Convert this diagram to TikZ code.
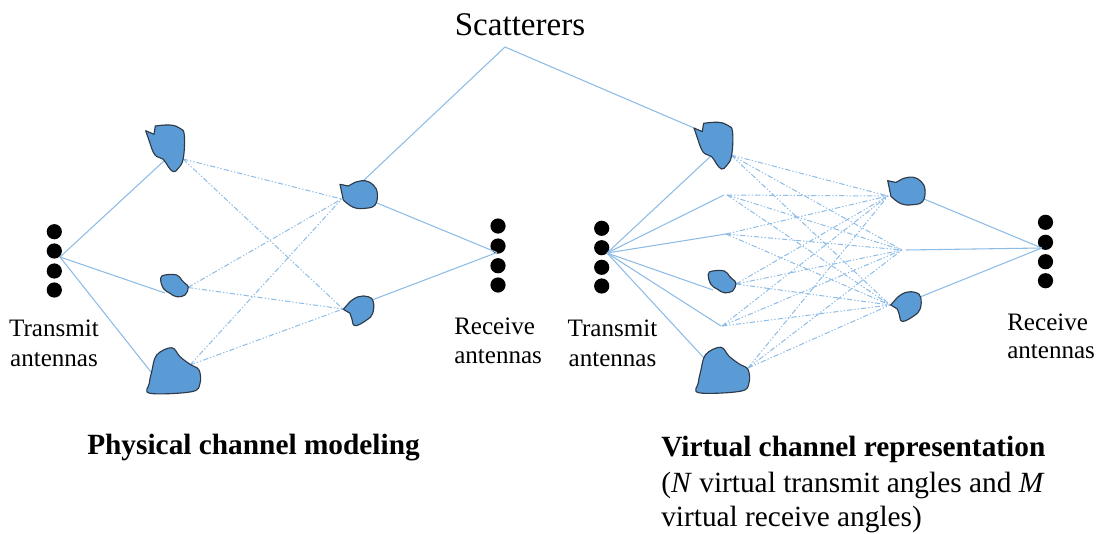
\documentclass[tikz,border=0pt]{standalone}
\usepackage{fontspec}
\setmainfont{Liberation Serif}
\definecolor{blobfill}{HTML}{5B9BD5}
\definecolor{blobedge}{HTML}{2E3A48}
\definecolor{ray}{HTML}{8DBCE6}
\tikzset{
  blob/.style={draw=blobedge,fill=blobfill,line width=0.85pt,line join=round},
  dot/.style={circle,fill=black,inner sep=0pt,minimum size=11.4pt},
  direct/.style={draw=ray,line width=0.8pt},
  scattered/.style={draw=ray,line width=0.75pt,dash pattern=on 4pt off 1.5pt on 1pt off 1.5pt on 1pt off 1.5pt},
  lbl/.style={anchor=base,inner sep=0pt,font=\fontsize{18.8pt}{22pt}\selectfont},
  lblw/.style={anchor=base west,inner sep=0pt,font=\fontsize{18.8pt}{22pt}\selectfont},
  big/.style={anchor=base,inner sep=0pt,font=\fontsize{24.8pt}{28pt}\selectfont},
  hd/.style={anchor=base west,inner sep=0pt,font=\fontsize{22pt}{25pt}\selectfont\bfseries},
  sub/.style={anchor=base west,inner sep=0pt,font=\fontsize{22pt}{25pt}\selectfont},
}
\newcommand{\blobA}{\draw[blob] (145.7,130.7) -- (154,134.3) -- plot[smooth,tension=.7] coordinates {(155.3,126) (170,125) (180,128.3) (184.3,135) (183.3,158.3) (178.3,168.3) (173.3,171.7) (168.3,166.7) (163.3,159.3) (155,155) (150,143.3)} -- cycle;}
\newcommand{\blobB}{\draw[blob] plot[smooth cycle,tension=.7] coordinates {(160.7,278.3) (165,275) (176.7,275) (181.7,280) (185,283.3) (188.3,287.3) (185,295) (176.7,296.7) (170,293.3) (163.3,288.3)};}
\newcommand{\blobC}{\draw[blob] plot[smooth cycle,tension=.6] coordinates {(151.7,371.7) (156.7,355) (171.7,347.7) (180,356.7) (190,364.3) (199,370) (200,383.3) (191.7,391.7) (150,393.3) (149.3,383.3)};}
\newcommand{\blobD}{\draw[blob] (340,184.3) -- (348.3,186) -- plot[smooth,tension=.7] coordinates {(355,182.3) (365,180.7) (373.3,185) (377.3,193.3) (375,205) (365,208.3) (353.3,207.3) (343.3,200)} -- cycle;}
\newcommand{\blobE}{\draw[blob] (343.3,309.3) -- plot[smooth,tension=.7] coordinates {(350,301.7) (358.3,296.7) (368.3,296.7) (373.3,301.7) (372.7,313.3) (366.7,320) (355,325.7) (351.7,318.3) (350,313.3)} -- cycle;}
\begin{document}
\begin{tikzpicture}[x=0.75pt,y=-0.75pt]
\useasboundingbox (0,0) rectangle (1097,533);
% antennas
\foreach \n/\y in {1/231.7,2/251,3/271,4/290} \node[dot] (tl\n) at (54.3,\y) {};
\foreach \n/\y in {1/226,2/246,3/265.7,4/285} \node[dot] (rl\n) at (498,\y) {};
\foreach \n/\y in {1/228.3,2/247.7,3/267.3,4/286} \node[dot] (tr\n) at (601.7,\y) {};
\foreach \n/\y in {1/222.3,2/242.3,3/261.7,4/280.7} \node[dot] (rr\n) at (1045.5,\y) {};
% connector ends
\coordinate (hubTL) at (60,257);
\coordinate (hubRL) at (497,252.5);
\coordinate (hubTR) at (607,253);
\coordinate (hubRR) at (1041.7,248);
\coordinate (apex) at (505,47);
\coordinate (Ain) at (165,160); \coordinate (Bin) at (165,293); \coordinate (Cin) at (151,372);
\coordinate (Aout) at (183,159); \coordinate (Bout) at (188,287.5); \coordinate (Cout) at (190,365);
\coordinate (Din) at (341.7,199); \coordinate (Ein) at (343,309);
\coordinate (Dout) at (377,203); \coordinate (Eout) at (372,300); \coordinate (Dtop) at (363,181);
\coordinate (Atop) at (694,128);
\coordinate (v1) at (712,155); \coordinate (v2) at (724,195); \coordinate (v3) at (726,234);
\coordinate (v4) at (713,290); \coordinate (v5) at (721,326); \coordinate (v6) at (704,358);
\coordinate (s1) at (731,155); \coordinate (s2) at (727,195); \coordinate (s3) at (726,234);
\coordinate (s4) at (736,284); \coordinate (s5) at (722,326); \coordinate (s6) at (748,368);
\coordinate (t1) at (888,196); \coordinate (t2) at (902,250); \coordinate (t3) at (890,305);
\coordinate (o1) at (924,199); \coordinate (o2) at (906,250); \coordinate (o3) at (920,297);
% left connectors
\foreach \e in {Ain,Bin,Cin} \draw[direct] (hubTL) -- (\e);
\foreach \s in {Aout,Bout,Cout} \foreach \e in {Din,Ein} \draw[scattered] (\s) -- (\e);
\draw[direct] (Dout) -- (hubRL);
\draw[direct] (Eout) -- (hubRL);
\draw[direct] (Dtop) -- (apex) -- (Atop);
% right connectors
\foreach \e in {v1,v2,v3,v4,v5,v6} \draw[direct] (hubTR) -- (\e);
\foreach \s in {s1,s2,s3,s4,s5,s6} \foreach \e in {t1,t2,t3} \draw[scattered] (\s) -- (\e);
\foreach \s in {o1,o2,o3} \draw[direct] (\s) -- (hubRR);
% scatterers
\blobA \blobB \blobC \blobD \blobE
\begin{scope}[shift={(548.3,-2.7)}]\blobA\end{scope}
\begin{scope}[shift={(547.6,-4)}]\blobB\end{scope}
\begin{scope}[shift={(549,-0.5)}]\blobC\end{scope}
\begin{scope}[shift={(547.7,-3.6)}]\blobD\end{scope}
\begin{scope}[shift={(547.4,-4.3)}]\blobE\end{scope}
% labels
\node[big] (scat) at (520,35) {Scatterers};
\node[lbl] (tx1a) at (54,336.7) {Transmit};
\node[lbl] (tx1b) at (54,366) {antennas};
\node[lblw] (rx1a) at (454,334) {Receive};
\node[lblw] (rx1b) at (454,363) {antennas};
\node[lbl] (tx2a) at (612.5,336.7) {Transmit};
\node[lbl] (tx2b) at (612.5,366) {antennas};
\node[lblw] (rx2a) at (1007,330) {Receive};
\node[lblw] (rx2b) at (1007,358) {antennas};
\node[hd] (h1) at (87,454) {Physical channel modeling};
\node[hd] (h2) at (661,456) {Virtual channel representation};
\node[sub] (s2a) at (661,492) {\makebox[287.5pt][s]{(\textit{N} virtual transmit angles and \textit{M}}};
\node[sub] (s2b) at (661,526) {virtual receive angles)};
\end{tikzpicture}
\end{document}
